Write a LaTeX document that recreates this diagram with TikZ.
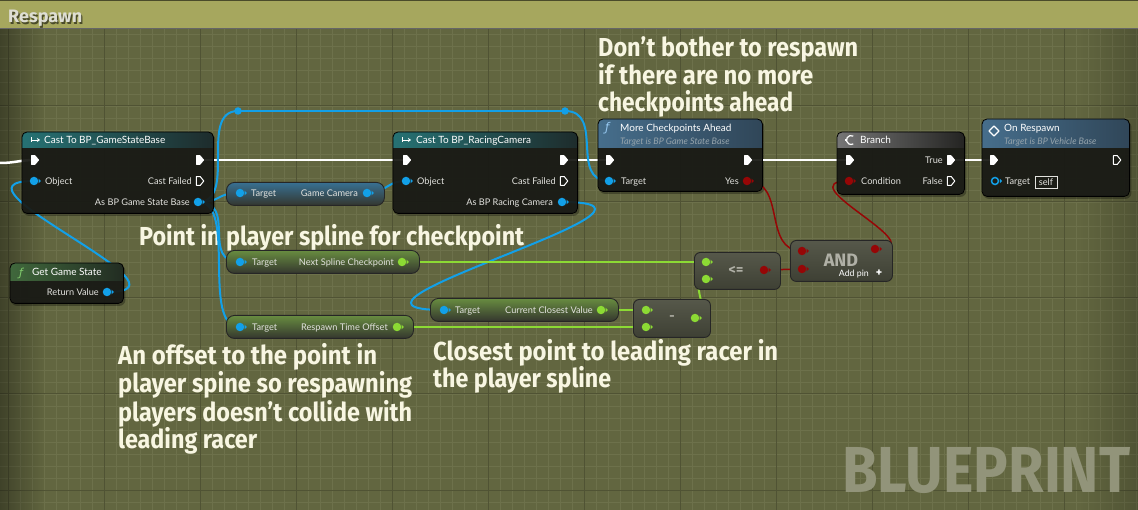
\documentclass[tikz,border=0pt]{standalone}
\usepackage{fontspec}
\setmainfont{Lato}
\newfontfamily\cmtfont{Fira Sans}
\newfontfamily\symfont{DejaVu Sans}
\usetikzlibrary{calc,fadings,arrows.meta}
\definecolor{bgc}{RGB}{98,102,64}
\definecolor{minorc}{RGB}{109,113,75}
\definecolor{majorc}{RGB}{80,83,52}
\definecolor{titlec}{RGB}{166,167,94}
\definecolor{titletxt}{RGB}{222,222,212}
\definecolor{wblue}{RGB}{18,160,232}
\definecolor{wgreen}{RGB}{140,218,52}
\definecolor{wred}{RGB}{150,6,6}
\definecolor{bodyc}{RGB}{26,27,22}
\definecolor{cream}{RGB}{248,246,226}
\definecolor{hteal}{RGB}{38,114,116}
\definecolor{hteald}{RGB}{30,44,44}
\definecolor{hblue}{RGB}{70,110,140}
\definecolor{hblued}{RGB}{48,70,88}
\definecolor{hgreen}{RGB}{64,104,60}
\definecolor{hgreend}{RGB}{34,44,34}
\definecolor{hgrey}{RGB}{118,118,118}
\definecolor{hgreyd}{RGB}{36,36,34}
\definecolor{lblc}{RGB}{226,226,222}
\definecolor{subc}{RGB}{150,164,172}
\definecolor{pblue}{RGB}{56,112,146}
\definecolor{pgreen}{RGB}{104,140,64}
\definecolor{pmid}{RGB}{80,83,70}
\definecolor{pbot}{RGB}{52,54,46}
\definecolor{matht}{RGB}{86,88,74}
\definecolor{mathb}{RGB}{62,64,52}
\definecolor{mathtxt}{RGB}{176,176,166}
\definecolor{bpc}{RGB}{146,148,122}
\definecolor{fgreen}{RGB}{130,205,110}
\definecolor{fblue}{RGB}{150,200,240}
\tikzfading[name=fadeR, left color=transparent!0, right color=transparent!100]
\tikzfading[name=fadeL, left color=transparent!100, right color=transparent!0]
\pgfdeclarelayer{bg}
\pgfdeclarelayer{wires}
\pgfsetlayers{bg,wires,main}
\tikzset{
  bodyst/.style={rectangle, rounded corners=5pt, fill=bodyc, fill opacity=0.94, draw=none, inner sep=0},
  purest/.style={rectangle, rounded corners=8pt, draw=black!85, line width=0.9pt, inner sep=0, middle color=pmid, bottom color=pbot},
  mathst/.style={rectangle, rounded corners=6pt, draw=black!85, line width=0.9pt, inner sep=0, top color=matht, bottom color=mathb},
  dpinst/.style={circle, inner sep=0, minimum size=8.5pt},
  lbl/.style={font=\fontsize{9.2}{10}\selectfont, text=lblc, inner sep=0},
  htxt/.style={font=\fontsize{10}{11}\selectfont, text=white, inner sep=0},
  subtxt/.style={font=\fontsize{9}{10}\selectfont\itshape, text=subc, inner sep=0},
  cmt/.style={font=\cmtfont\bfseries\fontsize{26}{28}\selectfont, text=cream, inner sep=0, anchor=base west},
  bw/.style={draw=wblue, line width=2pt},
  gw/.style={draw=wgreen, line width=2pt},
  rw/.style={draw=wred, line width=1.5pt},
  ew/.style={draw=white, line width=2.5pt},
}
\newcommand\bpbody[8]{%
  \node[bodyst, minimum width=#4pt, minimum height=#5pt, anchor=north west] (#1) at (#2,#3) {};
  \begin{pgfonlayer}{bg}
    \fill[black, opacity=0.3, rounded corners=6pt] ([shift={(1pt,-2pt)}]#1.north west) rectangle ([shift={(2pt,-2.5pt)}]#1.south east);
  \end{pgfonlayer}
  \begin{scope}
    \clip[rounded corners=5pt] (#1.north west) rectangle (#1.south east);
    \shade[left color=#7, right color=#8] (#1.north west) rectangle ([yshift=-#6pt]#1.north east);
  \end{scope}
  \draw[black, line width=0.8pt, rounded corners=5pt] (#1.north west) rectangle (#1.south east);
}
\newcommand\dpin[3]{%
  \node[dpinst, fill=#3] (#1) at (#2) {};
  \fill[#3] ([shift={(4.6pt,2.3pt)}]#1.center) -- ++(2.4pt,-2.3pt) -- ++(-2.4pt,-2.3pt) -- cycle;}
\newcommand\rpin[3]{%
  \node[dpinst, draw=#3, line width=1.5pt, minimum size=7pt] (#1) at (#2) {};
  \fill[#3] ([shift={(4.8pt,2.3pt)}]#1.center) -- ++(2.4pt,-2.3pt) -- ++(-2.4pt,-2.3pt) -- cycle;}
\newcommand\epin[2]{%
  \coordinate (#1) at (#2);
  \fill[white, rounded corners=0.5pt] ([shift={(-4pt,4.8pt)}]#1) -- ++(4.2pt,0) -- ++(4pt,-4.8pt) -- ++(-4pt,-4.8pt) -- ++(-4.2pt,0) -- cycle;}
\newcommand\eopin[2]{%
  \coordinate (#1) at (#2);
  \draw[white, line width=1pt, line join=round] ([shift={(-3.6pt,4.4pt)}]#1) -- ++(3.8pt,0) -- ++(3.6pt,-4.4pt) -- ++(-3.6pt,-4.4pt) -- ++(-3.8pt,0) -- cycle;}
\begin{document}
\begin{tikzpicture}[x=1pt,y=-1pt]
\useasboundingbox (0,0) rectangle (1138,510);
\begin{pgfonlayer}{bg}
  \fill[bgc] (0,0) rectangle (1138,510);
  \foreach \x in {8,20,...,1136} \draw[minorc, line width=0.6pt] (\x,28) -- (\x,510);
  \foreach \y in {34,46,...,506} \draw[minorc, line width=0.6pt] (0,\y) -- (1138,\y);
  \foreach \x in {8,104,...,1064} \draw[majorc, line width=1pt] (\x,28) -- (\x,510);
  \foreach \y in {106,202,298,394,490} \draw[majorc, line width=1pt] (0,\y) -- (1138,\y);
  \fill[black, opacity=0.35, path fading=fadeR] (0,28) rectangle (45,510);
  \fill[black, opacity=0.18, path fading=fadeL] (1080,28) rectangle (1138,510);
  \fill[titlec] (0,0) rectangle (1138,28);
  \fill[black, opacity=0.55] (0,0) rectangle (1138,1.5);
  \draw[black!60, line width=0.8pt] (0,28) -- (1138,28);
  % comments
  \node[cmt] (c1a) at (598,56.7) {\resizebox{260pt}{\height}{Don’t bother to respawn}};
  \node[cmt] (c1b) at (598,84.3) {\resizebox{215pt}{\height}{if there are no more}};
  \node[cmt] (c1c) at (598,111.7) {\resizebox{195pt}{\height}{checkpoints ahead}};
  \node[cmt] (c2) at (139,246) {\resizebox{385pt}{\height}{Point in player spline for checkpoint}};
  \node[cmt] (c3a) at (118,365) {\resizebox{259pt}{\height}{An offset to the point in}};
  \node[cmt] (c3b) at (118,393) {\resizebox{294pt}{\height}{player spine so respawning}};
  \node[cmt] (c3c) at (118,421) {\resizebox{294pt}{\height}{players doesn’t collide with}};
  \node[cmt] (c3d) at (118,449) {\resizebox{139pt}{\height}{leading racer}};
  \node[cmt] (c4a) at (433,360.5) {\resizebox{345pt}{\height}{Closest point to leading racer in}};
  \node[cmt] (c4b) at (433,388) {\resizebox{178pt}{\height}{the player spline}};
  \node[anchor=base west, inner sep=0, text=bpc, font=\cmtfont\bfseries\fontsize{65}{65}\selectfont] (bp) at (842,492) {\resizebox{288pt}{\height}{BLUEPRINT}};
\end{pgfonlayer}
% title
\node[font=\cmtfont\bfseries\fontsize{18}{20}\selectfont, text=black, opacity=0.55, anchor=base west, inner sep=0] (tshadow) at (9.3,24.3) {\resizebox{74pt}{\height}{Respawn}};
\node[font=\cmtfont\bfseries\fontsize{18}{20}\selectfont, text=titletxt, anchor=base west, inner sep=0] (title) at (8,23) {\resizebox{74pt}{\height}{Respawn}};

% ---------- big nodes ----------
\bpbody{cast1}{22}{132}{191}{81}{16}{hteal}{hteald}
\bpbody{ggs}{10}{263}{113}{40}{18}{hgreen}{hgreend}
\bpbody{cast2}{393}{132}{184}{81}{16}{hteal}{hteald}
\bpbody{more}{598}{119}{164}{72}{29}{hblue}{hblued}
\bpbody{branch}{837}{132}{127}{62}{16}{hgrey}{hgreyd}
\bpbody{onresp}{982}{119}{147}{77}{29}{hblue}{hblued}

% ---------- pure / math nodes ----------
\node[purest, top color=pblue, minimum width=158pt, minimum height=23pt, anchor=north west] (gcam) at (226,182) {};
\node[purest, top color=pgreen, minimum width=193pt, minimum height=23pt, anchor=north west] (nsp) at (226,250) {};
\node[purest, top color=pgreen, minimum width=188pt, minimum height=23pt, anchor=north west] (ccvn) at (430,298) {};
\node[purest, top color=pgreen, minimum width=187pt, minimum height=23pt, anchor=north west] (rton) at (226,315) {};
\node[mathst, minimum width=77pt, minimum height=38pt, anchor=north west] (minus) at (633,299) {};
\node[mathst, minimum width=86pt, minimum height=37pt, anchor=north west] (le) at (694,252) {};
\node[mathst, minimum width=102pt, minimum height=41pt, anchor=north west] (andn) at (790,240) {};

% ---------- header icons and texts ----------
\draw[white, line width=0.9pt] (31,137.5) -- (31,142.5);
\draw[white, line width=0.9pt, -{Stealth[length=3pt,width=4pt]}] (31,140) -- (40,140);
\node[htxt, anchor=base west] (h1) at (44,143.5) {Cast To BP\_GameStateBase};
\draw[white, line width=0.9pt] (402,137.5) -- (402,142.5);
\draw[white, line width=0.9pt, -{Stealth[length=3pt,width=4pt]}] (402,140) -- (411,140);
\node[htxt, anchor=base west] (h4) at (416,143.5) {Cast To BP\_RacingCamera};
\node[font=\symfont\fontsize{11}{12}\selectfont\itshape, text=fgreen, inner sep=0, anchor=base west] (f2) at (19,277) {ƒ};
\node[htxt, anchor=base west] (h2) at (32,275.8) {Get Game State};
\node[font=\symfont\fontsize{12}{12}\selectfont\itshape, text=fblue, inner sep=0, anchor=base west] (f5) at (605,132) {ƒ};
\node[htxt, anchor=base west] (h5) at (620,131.5) {More Checkpoints Ahead};
\node[subtxt, anchor=base west] (s5) at (620,144.5) {Target is BP Game State Base};
\draw[white, line width=1.2pt] (853.25,136.1) arc[start angle=60, end angle=300, radius=4.5pt];
\draw[white, line width=1.2pt] (845,140) -- (847,140);
\node[htxt, anchor=base west] (h6) at (860,143.5) {Branch};
\draw[white, line width=1.1pt, line join=round] (994,126) -- (999,131) -- (994,136) -- (989,131) -- cycle;
\node[htxt, anchor=base west] (h7) at (1004,131.5) {On Respawn};
\node[subtxt, anchor=base west] (s7) at (1004,144.5) {Target is BP Vehicle Base};

% ---------- pins ----------
\epin{ei1}{35,160} \epin{eo1}{200,160} \dpin{obj1}{34,181}{wblue} \eopin{ef1}{200,181} \dpin{asgsb}{198,202}{wblue}
\dpin{ret}{107,292}{wblue}
\dpin{t1}{240,193}{wblue} \dpin{gc}{367,193}{wblue}
\epin{ei2}{407,160} \epin{eo2}{564,160} \dpin{obj2}{406,181}{wblue} \eopin{ef2}{564,181} \dpin{asrc}{562,202}{wblue}
\epin{ei3}{610,160} \epin{eo3}{748,160} \dpin{tg3}{609,181}{wblue} \dpin{yes}{747,181}{wred}
\epin{ei4}{850,160} \epin{etrue}{951,160} \dpin{cond}{849,181}{wred} \eopin{efalse}{951,181}
\epin{ei5}{994,160} \eopin{eo5}{1117,160} \rpin{tg5}{995,181}{wblue}
\dpin{t2}{240,262}{wblue} \dpin{nsc}{402,262}{wgreen}
\dpin{t4}{444,310}{wblue} \dpin{ccv}{601,310}{wgreen}
\dpin{t3}{240,327}{wblue} \dpin{rto}{397,327}{wgreen}
\dpin{m1}{646,310}{wgreen} \dpin{m2}{646,327}{wgreen} \dpin{mout}{695,318}{wgreen}
\dpin{le1}{706,262}{wgreen} \dpin{le2}{706,279}{wgreen} \dpin{leout}{764,270}{wred}
\dpin{a1}{802,251}{wred} \dpin{a2}{802,269}{wred} \dpin{aout}{875,249}{wred}
\node[circle, fill=wblue, inner sep=0, minimum size=7.5pt] (k1) at (238,111) {};
\node[circle, fill=wblue, inner sep=0, minimum size=7.5pt] (k2) at (565,111) {};

% ---------- pin labels ----------
\node[lbl, anchor=base west] (l1a) at (45,184.5) {Object};
\node[lbl, anchor=base east] (l1b) at (192,184.5) {Cast Failed};
\node[lbl, anchor=base east] (l1c) at (190,205.5) {As BP Game State Base};
\node[lbl, anchor=base east] (l2a) at (99,295.5) {Return Value};
\node[lbl, anchor=base west] (l3a) at (251,196.5) {Target};
\node[lbl, anchor=base east] (l3b) at (358,196.5) {Game Camera};
\node[lbl, anchor=base west] (l4a) at (417,184.5) {Object};
\node[lbl, anchor=base east] (l4b) at (556,184.5) {Cast Failed};
\node[lbl, anchor=base east] (l4c) at (553,205.5) {As BP Racing Camera};
\node[lbl, anchor=base west] (l5a) at (621,184.5) {Target};
\node[lbl, anchor=base east] (l5b) at (739,184.5) {Yes};
\node[lbl, anchor=base east] (l6a) at (943,163.5) {True};
\node[lbl, anchor=base west] (l6b) at (861,184.5) {Condition};
\node[lbl, anchor=base east] (l6c) at (943,184.5) {False};
\node[lbl, anchor=base west] (l7a) at (1005,184.5) {Target};
\node[lbl, draw=lblc, line width=0.8pt, minimum width=22pt, minimum height=11.5pt, anchor=center] (selfbox) at (1046,182.5) {self};
\node[lbl, anchor=base west] (l8a) at (252,265.5) {Target};
\node[lbl, anchor=base east] (l8b) at (394,265.5) {Next Spline Checkpoint};
\node[lbl, anchor=base west] (l9a) at (455,313.5) {Target};
\node[lbl, anchor=base east] (l9b) at (593,313.5) {Current Closest Value};
\node[lbl, anchor=base west] (l10a) at (252,330.5) {Target};
\node[lbl, anchor=base east] (l10b) at (388,330.5) {Respawn Time Offset};
\node[font=\cmtfont\bfseries\fontsize{13}{13}\selectfont, text=mathtxt, inner sep=0] (minustxt) at (672,318) {-};
\node[font=\cmtfont\bfseries\fontsize{14}{14}\selectfont, text=mathtxt, inner sep=0] (letxt) at (736,270.5) {<=};
\node[font=\cmtfont\bfseries\fontsize{18}{18}\selectfont, text=mathtxt, inner sep=0, anchor=base] (andtxt) at (841,266.5) {AND};
\node[font=\fontsize{8.8}{9}\selectfont, text=white, inner sep=0, anchor=base east] (addpin) at (869,277) {Add pin};
\node[font=\cmtfont\bfseries\fontsize{12}{12}\selectfont, text=white, inner sep=0] (plus) at (879,273.5) {+};

% ---------- wires ----------
\begin{pgfonlayer}{wires}
  \coordinate (ein) at (0,163);
  \draw[ew] (ein) .. controls (15,163) and (20,160) .. (ei1);
  \draw[ew] (eo1) -- (ei2);
  \draw[ew] (eo2) -- (ei3);
  \draw[ew] (eo3) -- (ei4);
  \draw[ew] (etrue) -- (ei5);
  \draw[bw] (asgsb.center) .. controls +(25,0) and +(-25,0) .. (t1.center);
  \draw[bw] (asgsb.center) .. controls +(40,0) and +(-40,0) .. (k1.center);
  \draw[bw] (k1.center) -- (k2.center);
  \draw[bw] (k2.center) .. controls +(40,0) and +(-40,0) .. (tg3.center);
  \draw[bw] (asgsb.center) .. controls +(40,0) and +(-40,0) .. (t2.center);
  \draw[bw] (asgsb.center) .. controls +(40,0) and +(-40,0) .. (t3.center);
  \draw[bw] (ret.center) .. controls +(100,0) and +(-100,0) .. (obj1.center);
  \draw[bw] (gc.center) .. controls +(20,0) and +(-20,0) .. (obj2.center);
  \draw[bw] (asrc.center) .. controls +(150,0) and +(-150,0) .. (t4.center);
  \draw[gw] (nsc.center) -- (le1.center);
  \draw[gw] (ccv.center) -- (m1.center);
  \draw[gw] (rto.center) -- (m2.center);
  \draw[gw] (mout.center) .. controls +(20,0) and +(-20,0) .. (le2.center);
  \draw[rw] (leout.center) -- (a2.center);
  \draw[rw] (yes.center) .. controls +(40,0) and +(-40,0) .. (a1.center);
  \draw[rw] (aout.center) .. controls +(65,0) and +(-65,0) .. (cond.center);
\end{pgfonlayer}
\end{tikzpicture}
\end{document}
